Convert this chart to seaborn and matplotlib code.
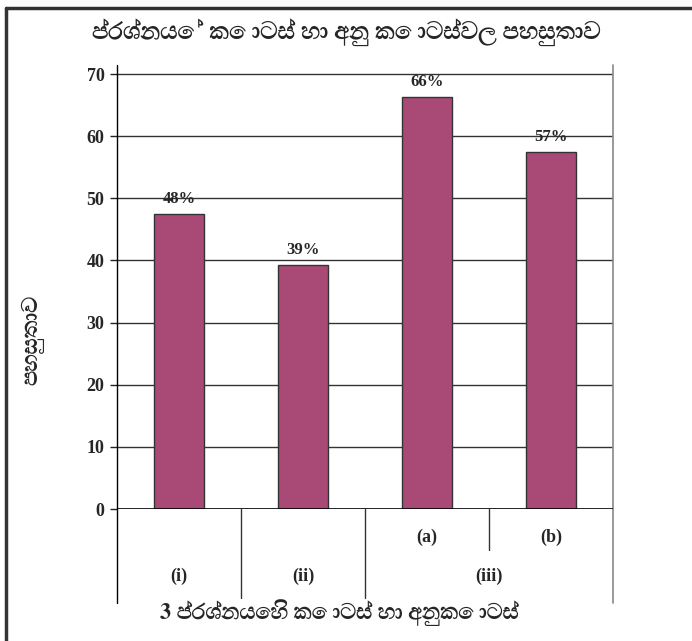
import numpy as np
import pandas as pd
import matplotlib
matplotlib.use("Agg")
import matplotlib.pyplot as plt
import matplotlib.transforms as mtransforms
from matplotlib import font_manager as fm
from matplotlib.ft2font import FT2Font
import seaborn as sns

# ---- data ----
parts = ["(i)", "(ii)", "(iii)(a)", "(iii)(b)"]
sub_labels = ["", "", "(a)", "(b)"]
group_labels = ["(i)", "(ii)", "(iii)", "(iii)"]
values = [47.5, 39.2, 66.3, 57.5]
value_labels = ["48%", "39%", "66%", "57%"]
yticks = [0, 10, 20, 30, 40, 50, 60, 70]

title = "ප්රශ්නයේ කොටස් හා අනු කොටස්වල පහසුතාව"
xlabel = "3 ප්රශ්නයෙහි කොටස් හා අනුකොටස්"
ylabel = "පහසුතාව"

# ---- fonts ----
sns.set_theme(style="white")
sinhala_fonts = []
for f in fm.fontManager.ttflist:
    try:
        if 0x0DB4 in FT2Font(f.fname).get_charmap():
            sinhala_fonts.append(f)
    except Exception:
        pass
sinhala = None
if sinhala_fonts:
    bold = [f for f in sinhala_fonts if isinstance(f.weight, int) and f.weight >= 600
            or f.weight in ("bold", "heavy", "black", "semibold", "demibold")]
    sinhala = (bold or sinhala_fonts)[0].name
sin_family = ([sinhala] if sinhala else []) + ["DejaVu Sans"]
serif = ["Liberation Serif", "DejaVu Serif"]
plt.rcParams["font.family"] = sin_family

bar_color = "#A94A76"

fig = plt.figure(figsize=(6.92, 6.41), dpi=100)
ax = fig.add_axes([0.1691, 0.2059, 0.7168, 0.6927])

df = pd.DataFrame({"part": parts, "value": values})
sns.barplot(data=df, x="part", y="value", color=bar_color, saturation=1,
            width=0.4, edgecolor="#333333", linewidth=1.0, ax=ax, zorder=3)

ax.set_xlim(-0.5, len(parts) - 0.5)
ax.set_ylim(0, 71.45)
ax.set_yticks(yticks)
ax.set_yticklabels([str(t) for t in yticks], family=serif, fontweight="bold",
                   fontsize=13)
ax.tick_params(axis="y", length=5, width=1, color="#222222", pad=4, left=True)
ax.tick_params(axis="x", bottom=False, labelbottom=False)
ax.set_xlabel("")
ax.set_ylabel("")

for t in yticks[1:]:
    ax.axhline(t, color="#333333", linewidth=1.0, zorder=1)

for s in ["top", "right", "left", "bottom"]:
    ax.spines[s].set_visible(False)
ax.axhline(0, color="black", linewidth=1.2, zorder=4)

# vertical lines extending below the axes
ax.axvline(-0.5, ymin=-0.212, ymax=1.0, color="black", linewidth=1.0, clip_on=False)
ax.axvline(len(parts) - 0.5, ymin=-0.212, ymax=1.0, color="#888888", linewidth=1.2,
           clip_on=False)

# group separators
n = len(parts)
for i in range(n - 1):
    if group_labels[i] != group_labels[i + 1]:
        ax.axvline(i + 0.5, ymin=-0.2, ymax=0, color="#333333", linewidth=1.0,
                   clip_on=False)
    else:
        ax.axvline(i + 0.5, ymin=-0.092, ymax=0, color="#333333", linewidth=1.0,
                   clip_on=False)

trans = mtransforms.blended_transform_factory(ax.transData, ax.transAxes)
for i, lab in enumerate(sub_labels):
    if lab:
        ax.text(i, -0.063, lab, transform=trans, ha="center", va="center",
                family=serif, fontweight="bold", fontsize=13)
seen = []
for g in group_labels:
    if g not in seen:
        seen.append(g)
for g in seen:
    idx = [i for i, x in enumerate(group_labels) if x == g]
    ax.text(np.mean(idx), -0.151, g, transform=trans, ha="center", va="center",
            family=serif, fontweight="bold", fontsize=13)

# value labels
ax.bar_label(ax.containers[0], labels=value_labels, padding=5,
             family=serif, fontweight="bold", fontsize=12)

fig.text(0.5, 0.950, title, ha="center", va="center", fontsize=17.5,
         fontweight="bold", family=sin_family)
fig.text(0.491, 0.044, xlabel, ha="center", va="center", fontsize=16,
         fontweight="bold", family=sin_family)
fig.text(0.048, 0.47, ylabel, ha="center", va="center", fontsize=16,
         rotation=90, fontweight="bold", family=sin_family)

# outer frame (top and left)
fig.add_artist(plt.Line2D([6 / 692, 1.0], [1 - 8 / 641, 1 - 8 / 641],
                          transform=fig.transFigure, color="#333333", linewidth=2.5))
fig.add_artist(plt.Line2D([6 / 692, 6 / 692], [0.0, 1 - 8 / 641],
                          transform=fig.transFigure, color="#333333", linewidth=2.5))

fig.savefig("out.png", dpi=100)
